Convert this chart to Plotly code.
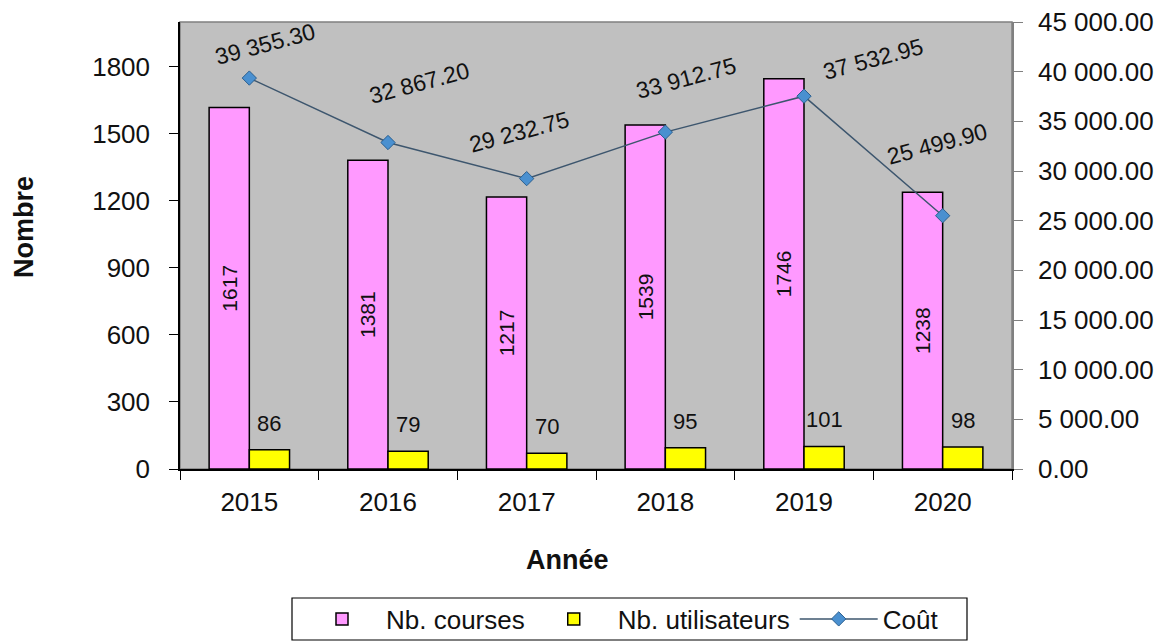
import plotly.graph_objects as go

years = ["2015", "2016", "2017", "2018", "2019", "2020"]
nb_courses = [1617, 1381, 1217, 1539, 1746, 1238]
nb_utilisateurs = [86, 79, 70, 95, 101, 98]
cout = [39355.30, 32867.20, 29232.75, 33912.75, 37532.95, 25499.90]

left_ticks = [0, 300, 600, 900, 1200, 1500, 1800]
right_ticks = [0, 5000, 10000, 15000, 20000, 25000, 30000, 35000, 40000, 45000]

# label offsets (pixels) for cost labels, styling only
cost_label_dx = [16, 31, -8, 21, 69, -6]
cost_label_dy = [34, 60, 47, 54, 37, 72]

# the page body adds an 8px offset around the figure
OFF = 8
W, H = 1168 - OFF, 642 - OFF
ML, MT = 180 - OFF, 22 - OFF
plot_w, plot_h = 832, 447
MR = W - ML - plot_w
MB = H - MT - plot_h
bargap = 0.42
bar_px = plot_w / len(years) * (1 - bargap) / 2

FONT = "Liberation Sans, Arial, sans-serif"
TXT = "#111111"

def fmt(v):
    return f"{v:,.2f}".replace(",", " ")

def px_x(p):
    return (p - OFF - ML) / plot_w

def px_y(p):
    return (MT + plot_h - (p - OFF)) / plot_h

fig = go.Figure()
fig.add_trace(go.Bar(
    x=years, y=nb_courses, name="Nb. courses",
    marker=dict(color="#ff99ff", line=dict(color="#000000", width=1.5)),
    text=[str(v) for v in nb_courses], textposition="inside",
    textangle=-90, insidetextanchor="middle",
    insidetextfont=dict(family=FONT, size=21, color=TXT),
    yaxis="y",
))
fig.add_trace(go.Bar(
    x=years, y=nb_utilisateurs, name="Nb. utilisateurs",
    marker=dict(color="#ffff00", line=dict(color="#000000", width=1.5)),
    yaxis="y",
))
fig.add_trace(go.Scatter(
    x=years, y=cout, name="Coût", mode="lines+markers",
    line=dict(color="#3d566e", width=1.5),
    marker=dict(symbol="diamond", size=11, color="#4a90d0",
                line=dict(color="#2b5f8f", width=1)),
    yaxis="y2",
))

annotations = []
for i, v in enumerate(nb_utilisateurs):
    annotations.append(dict(
        x=i, y=v, xref="x", yref="y", text=str(v), showarrow=False,
        xshift=bar_px / 2, yshift=12, yanchor="bottom",
        font=dict(family=FONT, size=22, color=TXT)))
for i, (v, dx, dy) in enumerate(zip(cout, cost_label_dx, cost_label_dy)):
    annotations.append(dict(
        x=i, y=v, xref="x", yref="y2", text=fmt(v), showarrow=False,
        xshift=dx, yshift=dy, textangle=-15,
        font=dict(family=FONT, size=23, color=TXT)))
annotations.append(dict(
    x=px_x(24), y=px_y(227), xref="paper", yref="paper",
    xanchor="center", yanchor="middle",
    text="<b>Nombre</b>", textangle=-90, showarrow=False,
    font=dict(family=FONT, size=27, color=TXT)))
annotations.append(dict(
    x=px_x(567), y=px_y(560), xref="paper", yref="paper",
    xanchor="center", yanchor="middle",
    text="<b>Année</b>", showarrow=False,
    font=dict(family=FONT, size=27, color=TXT)))

fig.update_layout(
    width=W, height=H,
    margin=dict(l=ML, r=MR, t=MT, b=MB, autoexpand=False),
    paper_bgcolor="white", plot_bgcolor="#c0c0c0",
    barmode="group", bargap=bargap, bargroupgap=0,
    separators=". ",
    font=dict(family=FONT, size=26, color=TXT),
    xaxis=dict(type="category", range=[-0.5, len(years) - 0.5], automargin=False,
               showline=True, linecolor="#000000", linewidth=1.5,
               ticks="outside", tickson="boundaries", ticklen=9, tickcolor="#000000",
               tickfont=dict(size=26, color=TXT), showgrid=False, zeroline=False,
               tickangle=0, ticklabelstandoff=9),
    yaxis=dict(range=[0, 2000], tickvals=left_ticks, showline=True, automargin=False,
               linecolor="#000000", linewidth=1.5, ticks="outside", ticklen=9,
               tickcolor="#000000", showgrid=False, zeroline=False,
               tickfont=dict(size=26, color=TXT), ticklabelstandoff=14,
               ticklabeloverflow="allow"),
    yaxis2=dict(range=[0, 45000], tickvals=right_ticks, tickformat=",.2f",
                overlaying="y", side="right", showline=True, automargin=False,
                linecolor="#808080", linewidth=1.5, ticks="outside", ticklen=9,
                tickcolor="#808080", showgrid=False, zeroline=False,
                tickfont=dict(size=26, color=TXT), ticklabelstandoff=10,
                ticklabeloverflow="allow"),
    legend=dict(orientation="h", x=px_x(621), xanchor="center",
                y=px_y(619), yanchor="middle",
                borderwidth=0, bgcolor="rgba(0,0,0,0)",
                font=dict(family=FONT, size=26, color=TXT),
                itemwidth=78, tracegroupgap=0),
    shapes=[
        dict(type="rect", xref="paper", yref="paper", x0=0, x1=1, y0=0, y1=1,
             line=dict(color="#808080", width=1.5), layer="below"),
        dict(type="rect", xref="paper", yref="paper",
             x0=px_x(292), x1=px_x(967), y0=px_y(640), y1=px_y(598),
             line=dict(color="#000000", width=1.2), fillcolor="white", layer="below"),
    ],
    annotations=annotations,
    showlegend=True,
)

fig.write_html("out.html")
